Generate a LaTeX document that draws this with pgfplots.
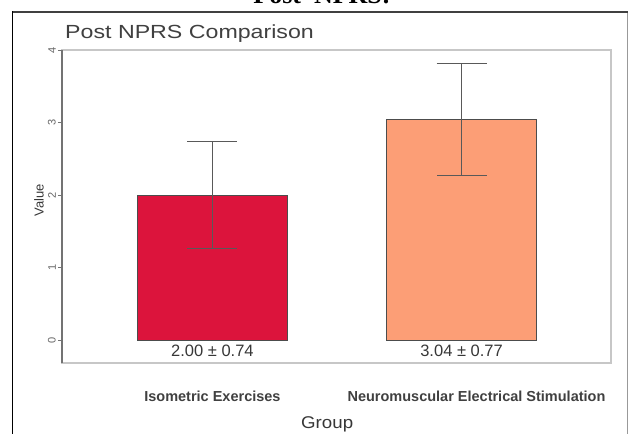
\documentclass[border=0pt]{standalone}
\usepackage{pgfplots}
\pgfplotsset{compat=1.18}
\usepackage{fontspec}
\setmainfont{Liberation Sans}
\newfontfamily\serifbf{Liberation Serif}

\definecolor{barred}{RGB}{220,20,60}
\definecolor{barorange}{RGB}{252,158,118}
\definecolor{txt}{RGB}{55,55,55}

\begin{document}
\begin{tikzpicture}
\useasboundingbox (0pt,0pt) rectangle (630pt,434pt);
% page heading, cut off at the top
\begin{scope}
  \clip (0pt,0pt) rectangle (630pt,434pt);
  \node[anchor=base, inner sep=0pt, font=\serifbf\bfseries\fontsize{26}{26}\selectfont]
    at (322pt,430pt) {Post~~NPRS:};
\end{scope}
% outer frame
\draw[line width=2pt, black!75] (12pt,422pt) -- (628pt,422pt);
\draw[line width=1.5pt, black] (12.5pt,0pt) -- (12.5pt,423pt);
\draw[line width=1pt, black!40] (627.5pt,0pt) -- (627.5pt,421pt);

\node[anchor=base west, inner sep=0pt, text=black!75, xscale=1.22,
      font=\fontsize{19}{19}\selectfont] at (65pt,395pt) {Post NPRS Comparison};

\begin{axis}[
  at={(62pt,71pt)}, anchor=south west,
  scale only axis, width=549pt, height=313pt,
  xmin=-0.604, xmax=1.6, ymin=-0.317, ymax=4,
  ybar, bar width=0.6, bar shift=0pt,
  clip=false,
  axis line style={black!22, line width=1.2pt},
  ytick={0,1,2,3,4}, ytick pos=left,
  tick align=outside, major tick length=4pt,
  ytick style={black!55, line width=0.8pt},
  /pgf/number format/assume math mode=true,
  yticklabel style={rotate=90, anchor=south, text=black!60,
    font=\fontsize{11}{11}\selectfont, inner sep=2pt},
  xtick={0,1.06},
  xticklabels={Isometric Exercises, Neuromuscular Electrical Stimulation},
  xtick style={draw=none},
  xticklabel style={anchor=base, yshift=-35pt, text=black!75,
    font=\bfseries\fontsize{14.5}{14.5}\selectfont},
  ylabel={Value},
  ylabel style={at={(axis description cs:-0.042,0.52)}, anchor=center,
    rotate=0, text=txt, font=\fontsize{13}{13}\selectfont},
  xlabel={Group},
  xlabel style={at={(axis description cs:0.483,-0.2077)}, anchor=base,
    text=txt, xscale=1.1, font=\fontsize{17}{17}\selectfont},
  error bars/error bar style={line width=1pt, black!65},
  error bars/error mark options={rotate=90, line width=1pt, black!65, mark size=25pt},
]
\draw[black!55, line width=1.2pt] (rel axis cs:0,0) -- (rel axis cs:0,1);

\addplot[fill=barred, draw=black!70, line width=0.9pt,
  error bars/.cd, y dir=both, y explicit]
  coordinates {(0,2.00) +- (0,0.74)};
\addplot[fill=barorange, draw=black!70, line width=0.9pt,
  error bars/.cd, y dir=both, y explicit]
  coordinates {(1,3.04) +- (0,0.77)};

\node[anchor=base, text=txt, font=\fontsize{16.5}{16.5}\selectfont]
  at (axis cs:0,-0.234) {2.00 ± 0.74};
\node[anchor=base, text=txt, font=\fontsize{16.5}{16.5}\selectfont]
  at (axis cs:1,-0.234) {3.04 ± 0.77};
\end{axis}
\end{tikzpicture}
\end{document}
